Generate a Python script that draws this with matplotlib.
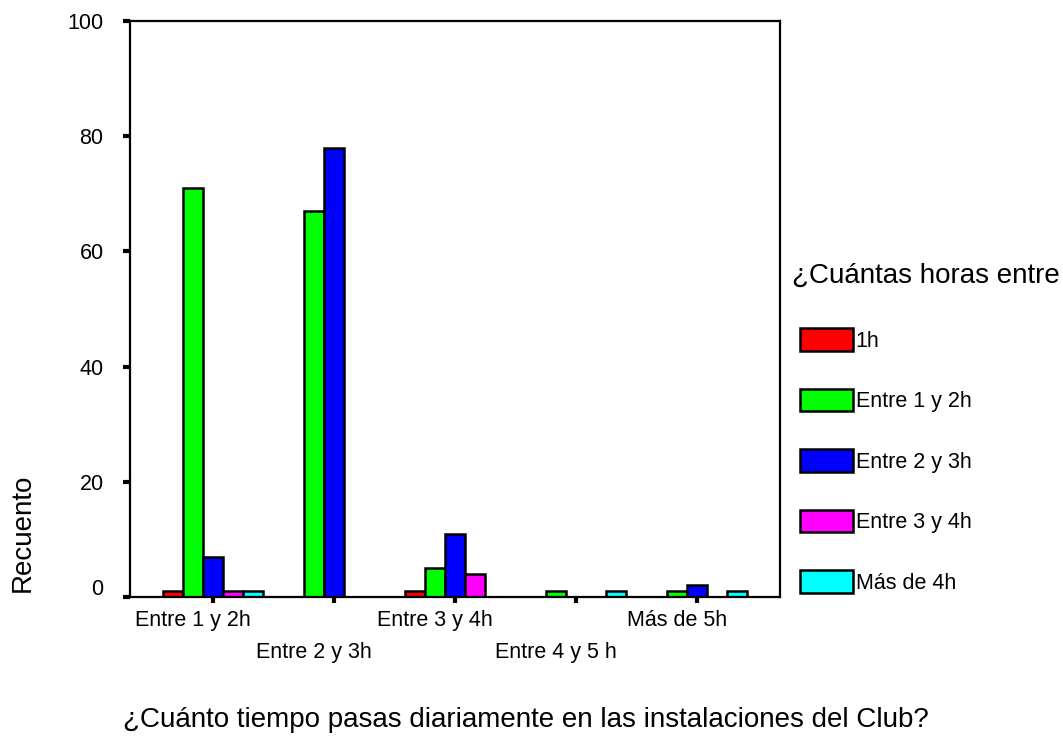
import numpy as np
import matplotlib
matplotlib.use("Agg")
import matplotlib.pyplot as plt
import matplotlib.transforms as mtransforms

plt.rcParams['font.family'] = ['Liberation Sans', 'DejaVu Sans']

categories = ["Entre 1 y 2h", "Entre 2 y 3h", "Entre 3 y 4h", "Entre 4 y 5 h", "Más de 5h"]
series_names = ["1h", "Entre 1 y 2h", "Entre 2 y 3h", "Entre 3 y 4h", "Más de 4h"]
counts_1h = [1, 0, 1, 0, 0]
counts_1_2h = [71, 67, 5, 1, 1]
counts_2_3h = [7, 78, 11, 0, 2]
counts_3_4h = [1, 0, 4, 0, 0]
counts_mas_4h = [1, 0, 0, 1, 1]
colors = ['#ff0000', '#00ff00', '#0000ff', '#ff00ff', '#00ffff']

series = [counts_1h, counts_1_2h, counts_2_3h, counts_3_4h, counts_mas_4h]

fig = plt.figure(figsize=(10.63, 7.37), dpi=100)
ax = fig.add_axes([0.1223, 0.19, 0.6115, 0.7815])

x = np.arange(len(categories))
width = 0.165
handles = []
for i, (vals, name, col) in enumerate(zip(series, series_names, colors)):
    vals = np.array(vals)
    pos = x + (i - 2) * width
    keep = vals > 0
    b = ax.bar(pos[keep], vals[keep], width=width, color=col, edgecolor='black',
               linewidth=1.8, label=name)
    handles.append(b)

ax.set_xlim(-0.686, 4.686)
ax.set_ylim(0, 100)
ax.set_yticks([0, 20, 40, 60, 80, 100])
ax.set_xticks(x)
ax.set_xticklabels([])
for s in ax.spines.values():
    s.set_linewidth(1.6)
ax.tick_params(axis='y', length=5, width=3, labelsize=15.5, pad=14)
ax.tick_params(axis='x', length=4, width=3)

# SPSS puts the 0 label a bit above its tick
lbl0 = ax.get_yticklabels()[0]
lbl0.set_transform(lbl0.get_transform() + mtransforms.ScaledTranslation(0, 7 / 72, fig.dpi_scale_trans))

# staggered category labels
for i, c in enumerate(categories):
    yy = -0.040 if i % 2 == 0 else -0.097
    ax.text(x[i] - 0.165, yy, c, transform=ax.get_xaxis_transform(),
            ha='center', va='center', fontsize=15.5)

fig.text(123 / 1063, 1 - 720 / 737, "¿Cuánto tiempo pasas diariamente en las instalaciones del Club?",
         ha='left', va='center', fontsize=20)
fig.text(23 / 1063, 1 - 533 / 737, "Recuento", rotation=90, ha='center', va='center', fontsize=20)

fig.text(792 / 1063, 1 - 276 / 737, "¿Cuántas horas entre", ha='left', va='center', fontsize=20)
leg = fig.legend(handles=handles, loc='center left', bbox_to_anchor=(800 / 1063, 1 - 461 / 737),
                 frameon=False, fontsize=15.5,
                 handlelength=2.44, handleheight=1.24, handletextpad=0.15, labelspacing=1.72,
                 borderpad=0, borderaxespad=0)
for p in leg.get_patches():
    p.set_linewidth(1.8)

fig.savefig('out.png', dpi=100)
